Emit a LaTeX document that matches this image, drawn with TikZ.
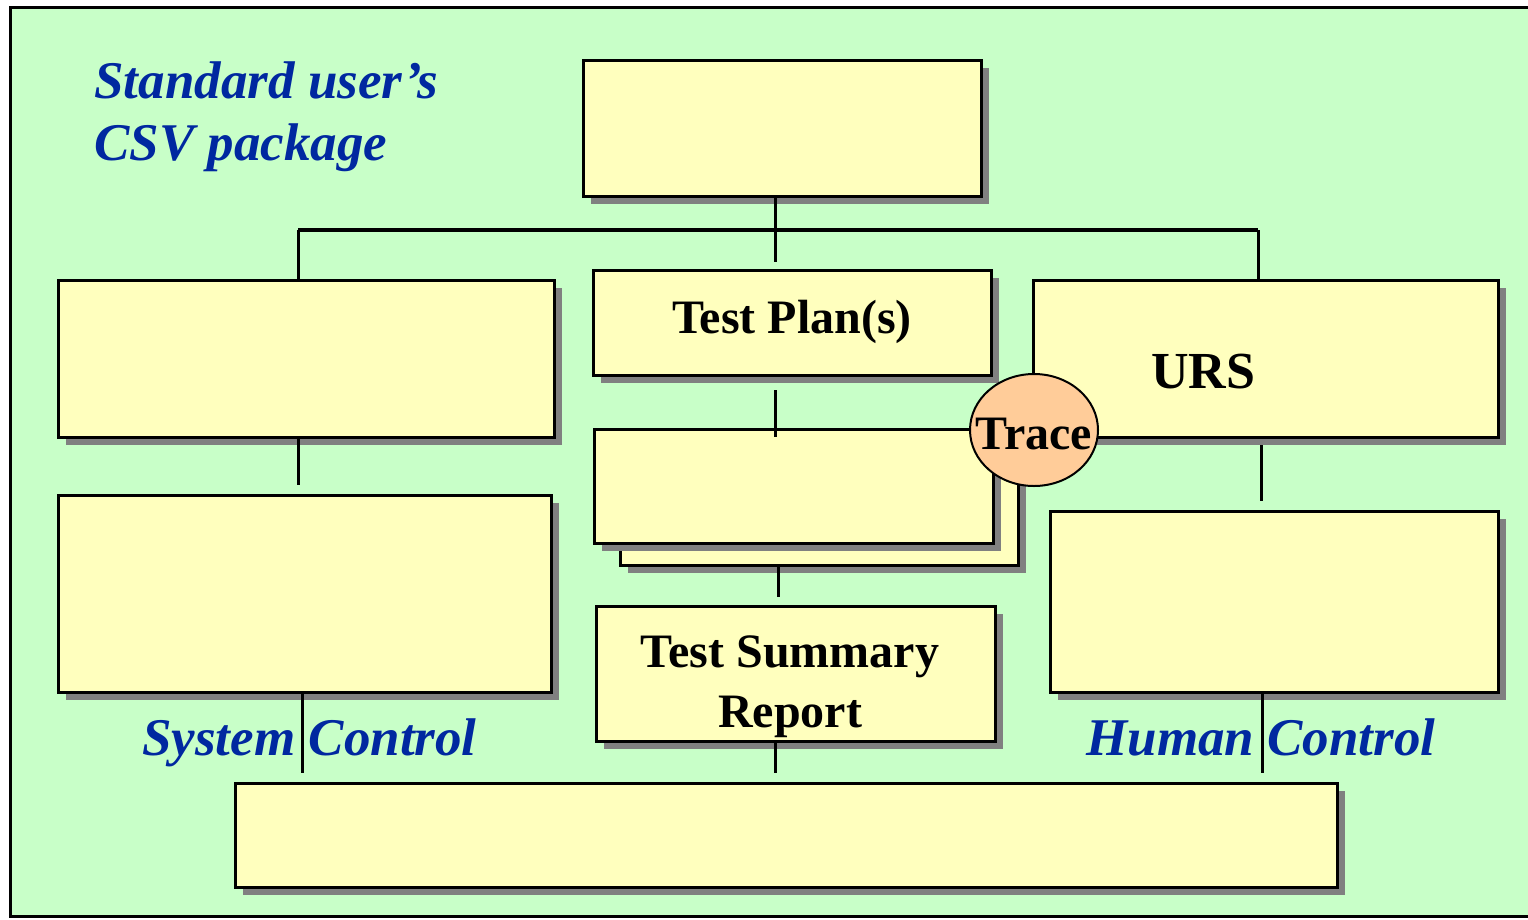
\documentclass[tikz,border=0pt]{standalone}
\usepackage{fontspec}
\setmainfont{Liberation Serif}
\usetikzlibrary{shapes.geometric,shadows}

\definecolor{panelgreen}{RGB}{200,255,200}
\definecolor{boxyellow}{RGB}{255,255,190}
\definecolor{shadowgray}{RGB}{128,128,128}
\definecolor{csvblue}{RGB}{0,40,160}
\definecolor{tracefill}{RGB}{255,204,153}

\begin{document}
\begin{tikzpicture}[x=1pt,y=-1pt,line width=3pt]
  \tikzstyle{box}=[rectangle,draw=black,fill=boxyellow,inner sep=0pt,
                   general shadow={fill=shadowgray,shadow xshift=8pt,shadow yshift=-8pt}]
  \tikzstyle{lbl}=[font=\fontsize{48}{58}\selectfont\bfseries,inner sep=0pt]
  \tikzstyle{blue}=[font=\fontsize{53}{60}\selectfont\bfseries\itshape,text=csvblue,inner sep=0pt]
  \tikzstyle{bar}=[line width=4.5pt]

  \useasboundingbox (0,0) rectangle (1528,919);
  \clip (0,0) rectangle (1528,919);
  \draw[line width=3pt,fill=panelgreen] (10,7) rectangle (1560,916);

  \node[blue,anchor=base west] (pkg) at (93,98) {Standard user’s};
  \node[blue,anchor=base west] (pkg2) at (93,160) {CSV package};

  % top row
  \node[box,minimum width=398,minimum height=136] (top) at (782,128) {};
  \node[box,minimum width=496,minimum height=157] (l1) at (306,358.5) {};
  \node[box,minimum width=398,minimum height=105] (m1) at (792,322.5) {};
  \node[lbl,anchor=base] (plan) at (792,333) {Test Plan(s)};
  \node[box,minimum width=465,minimum height=157] (r1) at (1265.5,358.5) {};
  \node[lbl,font=\fontsize{52}{60}\selectfont\bfseries,anchor=base] (urs) at (1203,388) {URS};

  % middle row
  \node[box,minimum width=493,minimum height=197] (l2) at (304.5,593.5) {};
  \node[box,minimum width=398,minimum height=114] (m2b) at (819,508) {};
  \node[box,minimum width=399,minimum height=114] (m2) at (793.5,486) {};
  \node[box,minimum width=448,minimum height=181] (r2) at (1274,601.5) {};
  \node[box,minimum width=399,minimum height=135] (m3) at (795.5,673.5) {};
  \node[lbl,align=center] (tsr) at (790,687) {Test Summary\\[2pt]Report};

  % bottom
  \node[box,minimum width=1102,minimum height=104] (bot) at (786,835) {};

  \node[blue,anchor=base] (sys) at (309.5,755) {System Control};
  \node[blue,anchor=base] (hum) at (1261,755) {Human Control};

  % connectors
  \coordinate (bw) at (298,230);
  \coordinate (be) at (1258,230);
  \coordinate (s0) at (775,262);
  \coordinate (s1) at (775,390);
  \coordinate (s1e) at (775,437);
  \coordinate (s2) at (298,485);
  \coordinate (s3) at (1261,445);
  \coordinate (s3e) at (1261,501);
  \coordinate (s4) at (778,597);
  \coordinate (s5) at (775,773);
  \coordinate (s6) at (302,773);
  \coordinate (s7) at (1262,773);

  \draw[bar] (bw) -- (be);
  \draw (bw) -- (bw |- l1.north);
  \draw (be) -- (be |- r1.north);
  \draw (top.south -| s0) -- (s0);
  \draw (s1) -- (s1e);
  \draw (l1.south -| s2) -- (s2);
  \draw (s3) -- (s3e);
  \draw (m2b.south -| s4) -- (s4);
  \draw (m3.south -| s5) -- (s5);
  \draw (l2.south -| s6) -- (s6);
  \draw (r2.south -| s7) -- (s7);

  \node[ellipse,draw=black,line width=2pt,fill=tracefill,minimum width=128,
        minimum height=112,inner sep=0pt] (trace) at (1034,430) {};
  \node[lbl,anchor=base] (tracetxt) at (1034,449) {Trace};
\end{tikzpicture}
\end{document}
